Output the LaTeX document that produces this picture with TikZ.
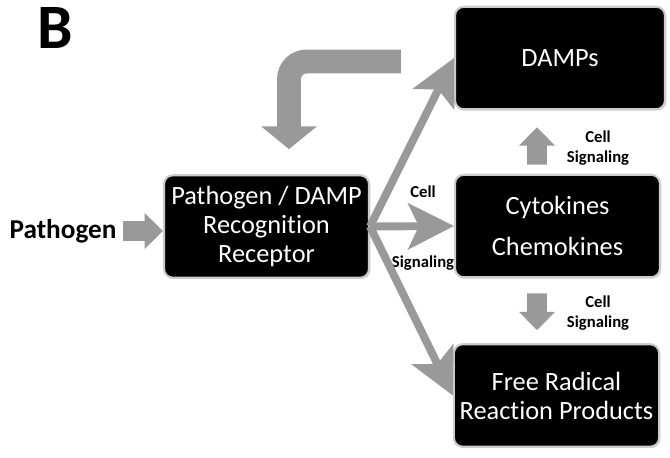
\documentclass[tikz,border=0pt]{standalone}
\usepackage{fontspec}
\setmainfont{Carlito}[Ligatures=NoCommon]
\usetikzlibrary{arrows.meta,shadows}
\def\boxfont{\fontsize{15}{16.5}\selectfont}
\def\sigfont{\fontsize{9.5}{11.5}\selectfont\bfseries}
\tikzset{
	darkbox/.style={rectangle, rounded corners=5pt, fill=black, draw=black!20, line width=1.2pt, text=white, align=center, font=\boxfont, minimum width=4.1cm, minimum height=2.05cm, drop shadow={opacity=0.25, shadow xshift=0.8pt, shadow yshift=-0.8pt}},
	fanarrow/.style={draw=black!40, line width=4.5pt, -{Stealth[length=26pt, width=26pt, inset=6pt]}},
	blockarrow/.style={draw=black!40, line width=11.3pt, -{Triangle[length=10.5pt, width=20pt]}},
	siglabel/.style={font=\sigfont, align=center}
}

\begin{document}
\begin{tikzpicture}[x=0.02cm, y=-0.02cm]
			%%%%% START %%%%%
			\useasboundingbox (0, 0) rectangle (670, 457);
			
			\node[font=\fontsize{36}{40}\selectfont\bfseries] (panel) at (55, 28) {B};
			\node[font=\fontsize{15.5}{17}\selectfont\bfseries] (pathogen) at (63, 231) {Pathogen};
			
			\node[darkbox] (prr) at (266.5, 226.5) {Pathogen / DAMP\\Recognition\\Receptor};
			\node[darkbox, minimum width=4.2cm] (damps) at (560, 58) {DAMPs};
			\node[darkbox] (cyto) at (557.5, 226) {Cytokines\\[6.5pt]Chemokines};
			\node[darkbox] (free) at (556.5, 395.5) {Free Radical\\Reaction Products};
			
			\node[siglabel] (sigup) at (598, 148) {Cell\\Signaling};
			\node[siglabel] (sigdown) at (598, 313) {Cell\\Signaling};
			\node[siglabel] (cellmid) at (423, 192) {Cell};
			\node[siglabel] (sigmid) at (423, 263) {Signaling};
			
			\draw[blockarrow] (pathogen.east) -- (pathogen.east -| prr.west);
			
			\draw[fanarrow] (prr.east) -- (damps.west);
			\draw[fanarrow] (prr.east) -- (cyto.west);
			\draw[fanarrow] (prr.east) -- (free.west);
			
			\draw[blockarrow] ([xshift=-0.41cm, yshift=0.18cm]cyto.north) -- ([xshift=-0.46cm, yshift=-0.34cm]damps.south);
			\draw[blockarrow] ([xshift=-0.41cm, yshift=-0.3cm]cyto.south) -- ([xshift=-0.39cm, yshift=0.26cm]free.north);
			
			\draw[blockarrow, line width=13.6pt, -{Triangle[length=13pt, width=31pt]}, rounded corners=10pt] ([xshift=-1.06cm, yshift=-0.07cm]damps.west) -| ([xshift=0.45cm, yshift=0.5cm]prr.north);
			
			%%%%% END %%%%%
\end{tikzpicture}
\end{document}
